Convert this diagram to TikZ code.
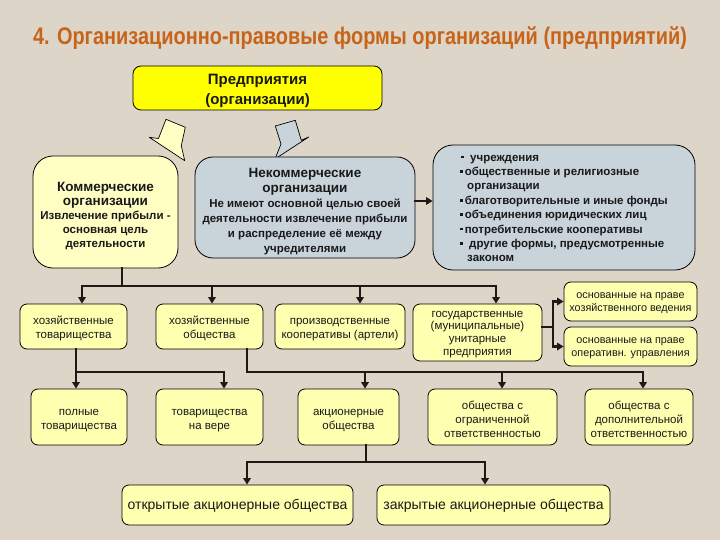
\documentclass[tikz,border=0pt]{standalone}
\usepackage{fontspec}
\setmainfont{Liberation Sans}
\usepackage{graphicx}
\usetikzlibrary{arrows.meta}
\definecolor{bg}{RGB}{221,214,200}
\definecolor{ttl}{RGB}{200,100,25}
\definecolor{yel}{RGB}{255,255,176}
\definecolor{yelp}{RGB}{255,255,196}
\definecolor{yelb}{RGB}{255,255,0}
\definecolor{blu}{RGB}{200,212,218}
\definecolor{ln}{RGB}{30,25,20}
\newcommand{\blt}{\raisebox{2.6pt}{\rule{2.6pt}{2.6pt}}}
\newcommand{\hdA}{\fontsize{13.5}{15}\selectfont}
\newcommand{\st}[1]{\rule{0pt}{#1}}
\tikzset{
  box/.style={draw=black, line width=0.8pt, rounded corners=7pt, fill=yel,
    inner sep=0pt, align=center, text=black!90, font=\fontsize{11.5}{14}\selectfont},
  conn/.style={draw=ln, line width=2.4pt, line cap=rect},
  arr/.style={conn, -{Triangle[width=7.5pt,length=6.5pt]}},
  blockarrow/.style={draw=black, line width=0.7pt, line join=round},
}
\begin{document}
\begin{tikzpicture}[x=1pt,y=-1pt]
\fill[bg] (0,0) rectangle (720,540);
\useasboundingbox (0,0) rectangle (720,540);

\node[font=\bfseries\fontsize{24}{28}\selectfont, text=ttl] (title) at (360,38)
  {\scalebox{0.83}[1]{4. Организационно-правовые формы организаций (предприятий)}};

\node[box, fill=yelb, minimum width=249pt, minimum height=44pt, rounded corners=8pt,
  font=\bfseries\fontsize{15}{20}\selectfont] (top) at (257.5,88) {\st{16pt}Предприятия\\(организации)};

% block arrows
\filldraw[blockarrow, fill=yelp] (166,119.3) -- (185.3,127.3) -- (181.3,145.7) -- (184.7,160.7)
  -- (149.3,137.3) -- (158.5,138.5) -- cycle;
\filldraw[blockarrow, fill=blu] (275.3,126) -- (295.3,120.3) -- (301.3,140.3) -- (308.7,137)
  -- (275,159) -- (281,144) -- cycle;

\node[box, fill=yelp, minimum width=145pt, minimum height=112pt, rounded corners=20pt,
  font=\bfseries\fontsize{11.5}{14}\selectfont] (comm) at (105.5,212)
  {\st{17pt}\hdA Коммерческие\\\hdA организации\\
   Извлечение прибыли -\\основная цель\\деятельности};

\node[box, fill=blu, minimum width=220pt, minimum height=101pt, rounded corners=18pt,
  font=\bfseries\fontsize{11.5}{15}\selectfont] (noncomm) at (305,207.5)
  {\st{17pt}\hdA Некоммерческие\\\hdA организации\\
   Не имеют основной целью своей\\деятельности извлечение прибыли\\и распределение её между\\учредителями};

\node[box, fill=blu, minimum width=262pt, minimum height=125pt, rounded corners=20pt,
  align=left, font=\bfseries\fontsize{11.5}{14.4}\selectfont] (list) at (564,207.5)
  {\st{8pt}\hspace*{1pt}\blt\ \ учреждения\\
   \blt\,общественные и религиозные\\
   \hspace*{7pt}организации\\
   \blt\,благотворительные и иные фонды\\
   \blt\,объединения юридических лиц\\
   \blt\,потребительские кооперативы\\
   \blt\ \ другие формы, предусмотренные\\
   \hspace*{7pt}законом};

% row 2
\node[box, minimum width=107pt, minimum height=45pt] (hozT) at (73.5,326.5) {\st{13pt}хозяйственные\\товарищества};
\node[box, minimum width=107pt, minimum height=45pt] (hozO) at (209.5,326.5) {\st{13pt}хозяйственные\\общества};
\node[box, minimum width=130pt, minimum height=45pt] (proizv) at (340,326.5) {\st{13pt}производственные\\кооперативы (артели)};
\node[box, minimum width=129pt, minimum height=57pt, font=\fontsize{11.5}{12.7}\selectfont] (gos) at (477.5,332.5) {\st{10pt}государственные\\(муниципальные)\\унитарные\\предприятия};
\node[box, minimum width=133pt, minimum height=39pt, font=\fontsize{10.8}{13}\selectfont] (hozved) at (630.5,301.5) {\st{9pt}основанные на праве\\хозяйственного ведения};
\node[box, minimum width=133pt, minimum height=39pt, font=\fontsize{10.8}{13}\selectfont] (operupr) at (630.5,346.5) {\st{9pt}основанные на праве\\оперативн. управления};

% row 3
\node[box, minimum width=96pt, minimum height=56pt] (polnye) at (79,417) {\st{13pt}полные\\товарищества};
\node[box, minimum width=107pt, minimum height=56pt] (naVere) at (209.5,417) {\st{13pt}товарищества\\на вере};
\node[box, minimum width=101pt, minimum height=56pt] (akcion) at (348.5,417) {\st{13pt}акционерные\\общества};
\node[box, minimum width=129pt, minimum height=56pt] (ooo) at (492.5,417) {\st{13pt}общества с\\ограниченной\\ответственностью};
\node[box, minimum width=108pt, minimum height=56pt] (odo) at (639,417) {\st{13pt}общества с\\дополнительной\\ответственностью};

% row 4
\node[box, minimum width=231pt, minimum height=40pt, font=\fontsize{14}{16}\selectfont] (open) at (237.5,505) {\st{11pt}открытые акционерные общества};
\node[box, minimum width=233pt, minimum height=40pt, font=\fontsize{14}{16}\selectfont] (closed) at (493.5,505) {\st{11pt}закрытые акционерные общества};

% connectors
\coordinate (j1) at (122,286);
\draw[conn] (comm.south -| j1) -- (j1);
\draw[conn] (82,0 |- j1) -- (496,0 |- j1);
\foreach \x/\n in {82/hozT,212/hozO,360/proizv,496/gos}
  \draw[arr] (\x,0 |- j1) -- (\x,0 |- \n.north);

\draw[arr] (noncomm.east |- 0,201) -- (list.west |- 0,201);

\coordinate (j2) at (553,327);
\draw[conn] (gos.east |- j2) -- (j2);
\draw[conn] (j2 |- hozved.west) -- (j2 |- operupr.west);
\draw[arr] (j2 |- hozved.west) -- (hozved.west);
\draw[arr] (j2 |- operupr.west) -- (operupr.west);

\coordinate (j3) at (76,372);
\draw[arr] (76,0 |- hozT.south) -- (76,0 |- polnye.north);
\draw[conn] (j3) -- (224,0 |- j3);
\draw[arr] (224,0 |- j3) -- (224,0 |- naVere.north);

\coordinate (j4) at (247,372);
\draw[conn] (j4 |- hozO.south) -- (j4) -- (643,0 |- j4);
\foreach \x/\n in {365/akcion,502/ooo,643/odo}
  \draw[arr] (\x,0 |- j4) -- (\x,0 |- \n.north);

\coordinate (j5) at (366,462);
\draw[conn] (j5 |- akcion.south) -- (j5);
\draw[conn] (247,0 |- j5) -- (485,0 |- j5);
\draw[arr] (247,0 |- j5) -- (247,0 |- open.north);
\draw[arr] (485,0 |- j5) -- (485,0 |- closed.north);
\end{tikzpicture}
\end{document}
